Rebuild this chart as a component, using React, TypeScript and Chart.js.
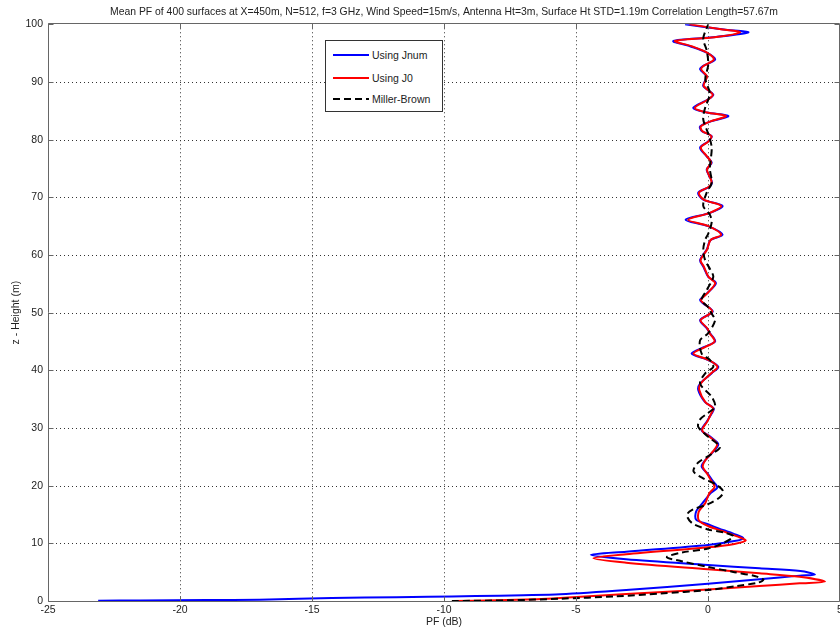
import React, { useEffect, useRef } from "react";
import { Chart, registerables } from "chart.js";

Chart.register(...registerables);

const TITLE =
  "Mean PF of 400 surfaces at X=450m, N=512, f=3 GHz, Wind Speed=15m/s, Antenna Ht=3m, Surface Ht STD=1.19m Correlation Length=57.67m";
const X_LABEL = "PF (dB)";
const Y_LABEL = "z - Height (m)";
const SERIES_NAMES = ["Using Jnum", "Using J0", "Miller-Brown"];
const SERIES_COLORS = ["#0000ff", "#ff0000", "#000000"];

const X_MIN = -25;
const X_MAX = 5;
const X_STEP = 5;
const Y_MIN = 0;
const Y_MAX = 100;
const Y_STEP = 10;

// Using Jnum (blue)
const jnumHeight = [
  0.05, 0.1, 0.17, 0.23, 0.4, 0.6, 0.72, 0.85, 1.0, 1.16, 1.9, 3.0, 3.76, 4.4, 4.6, 5.2, 5.67, 6.25, 7.23, 8.0,
  8.56, 9.73, 10.4, 10.9, 11.6, 12.6, 13.3, 14.1, 15.5, 17.0, 18.7, 19.7, 21.0, 22.0, 23.3, 24.4, 25.9, 27.2, 28.5,
  29.6, 31.1, 32.5, 33.4, 34.5, 36.6, 37.7, 39.5, 40.6, 41.8, 42.9, 44.1, 45.0, 46.4, 47.3, 48.7, 50.2, 51.6, 52.2,
  53.3, 55.1, 56.2, 58.0, 59.1, 60.9, 62.6, 63.5, 65.0, 66.1, 67.3, 68.5, 69.6, 70.8, 71.9, 72.8, 74.8, 76.0, 77.1,
  78.6, 79.7, 80.6, 81.5, 82.3, 83.2, 84.1, 84.7, 85.5, 87.0, 87.8, 89.3, 90.2, 91.0, 92.2, 92.8, 93.9, 95.1, 96.2,
  97.1, 97.75, 98.6, 99.1, 100.0,
];
const jnumPF = [
  -23.1, -21.5, -19.0, -17.0, -15.5, -13.0, -10.6, -8.8, -7.0, -5.6, -3.1, 0.0, 1.95, 3.47, 4.05, 3.5, 1.95, 0.0,
  -3.1, -4.44, -3.1, 0.0, 1.0, 1.34, 1.0, 0.4, 0.0, -0.45, -0.45, -0.2, 0.1, 0.35, 0.15, 0.0, -0.24, -0.11, 0.2, 0.39,
  0.08, -0.24, -0.05, 0.14, 0.22, -0.11, -0.37, -0.3, 0.14, 0.39, 0.01, -0.62, -0.11, 0.27, 0.08, -0.05, -0.3, 0.18,
  -0.18, -0.3, -0.05, 0.3, 0.01, -0.18, -0.3, -0.05, 0.1, 0.55, 0.0, -0.85, 0.08, 0.55, -0.18, -0.37, 0.08, 0.14,
  -0.05, 0.14, -0.05, -0.3, 0.01, 0.14, -0.24, -0.3, 0.14, 0.77, -0.05, -0.56, 0.01, 0.2, -0.18, -0.11, -0.05, -0.3,
  -0.18, 0.27, -0.05, -0.68, -1.31, 0.2, 1.53, 0.6, -0.87,
];

// Using J0 (red)
const j0Height = [
  0.0, 0.12, 0.3, 0.5, 1.2, 2.0, 2.6, 3.06, 3.36, 4.2, 4.8, 5.5, 6.65, 7.4, 8.1, 9.3, 9.9, 10.5, 11.2, 12.2, 13.0,
  14.0, 15.5, 17.0, 18.7, 19.8, 21.0, 22.0, 23.3, 24.4, 25.9, 27.2, 28.5, 29.6, 31.1, 32.5, 33.4, 34.5, 36.6, 37.7,
  39.5, 40.6, 41.8, 42.9, 44.1, 45.0, 46.4, 47.3, 48.7, 50.2, 51.6, 52.2, 53.3, 55.1, 56.2, 58.0, 59.1, 60.9, 62.6,
  63.5, 65.0, 66.1, 67.3, 68.5, 69.6, 70.8, 71.9, 72.8, 74.8, 76.0, 77.1, 78.6, 79.7, 80.6, 81.5, 82.3, 83.2, 84.1,
  84.7, 85.5, 87.0, 87.8, 89.3, 90.2, 91.0, 92.2, 92.8, 93.9, 95.1, 96.2, 97.1, 97.75, 98.6, 99.1, 100.0,
];
const j0PF = [
  -9.7, -8.0, -6.5, -5.6, -3.1, 0.0, 1.95, 3.47, 4.43, 3.47, 1.95, 0.0, -3.1, -4.34, -3.1, 0.0, 1.0, 1.43, 1.1, 0.5,
  0.0, -0.35, -0.35, -0.1, 0.05, 0.25, 0.1, -0.02, -0.2, -0.1, 0.18, 0.35, 0.05, -0.22, -0.03, 0.12, 0.2, -0.1, -0.33,
  -0.28, 0.12, 0.36, 0.02, -0.55, -0.08, 0.25, 0.07, -0.03, -0.28, 0.16, -0.16, -0.27, -0.04, 0.27, 0.02, -0.16,
  -0.28, -0.04, 0.1, 0.5, 0.02, -0.75, 0.07, 0.5, -0.16, -0.34, 0.06, 0.13, -0.04, 0.12, -0.04, -0.27, 0.02, 0.13,
  -0.22, -0.27, 0.12, 0.68, -0.04, -0.5, 0.02, 0.18, -0.16, -0.1, -0.04, -0.26, -0.16, 0.22, -0.04, -0.62, -1.25,
  0.25, 1.21, 0.55, -0.7,
];

// Miller-Brown (black dashed)
const mbHeight = [
  0.0, 0.12, 0.4, 0.8, 1.3, 1.9, 2.6, 3.2, 3.7, 4.3, 5.0, 5.9, 6.9, 7.6, 8.4, 9.1, 10.1, 11.2, 11.9, 12.4, 13.5,
  14.9, 15.8, 16.8, 18.0, 19.0, 20.2, 21.3, 22.5, 24.0, 25.5, 26.7, 28.5, 30.2, 31.5, 32.6, 33.7, 35.4, 37.7, 39.5,
  40.6, 41.8, 42.9, 45.2, 46.4, 48.7, 49.8, 50.9, 52.2, 53.9, 56.2, 57.6, 59.1, 60.9, 62.6, 63.7, 65.7, 67.0, 68.5,
  70.8, 72.5, 75.0, 78.6, 81.0, 83.5, 85.5, 88.0, 90.5, 93.0, 95.5, 97.5, 100.0,
];
const mbPF = [
  -9.7, -7.5, -5.6, -3.5, -1.8, 0.0, 1.1, 1.9, 2.1, 1.8, 1.0, 0.0, -1.0, -1.56, -1.0, 0.0, 0.6, 0.96, 0.6, 0.0, -0.6,
  -0.8, -0.6, 0.0, 0.45, 0.58, 0.3, -0.2, -0.55, -0.37, 0.14, 0.45, 0.0, -0.37, -0.3, 0.0, 0.27, 0.14, -0.3, -0.1,
  0.2, 0.07, -0.24, -0.3, 0.0, 0.27, 0.14, 0.01, -0.24, -0.05, 0.2, 0.07, -0.11, -0.18, -0.11, 0.01, 0.14, 0.07,
  -0.18, -0.05, 0.14, 0.07, 0.14, 0.01, -0.18, -0.11, 0.07, -0.1, 0.01, -0.05, -0.18, 0.01,
];

const FONT = "'Liberation Sans', Arial, sans-serif";
const TEXT_COLOR = "#222";
const AXIS_COLOR = "#666";

const zip = (hs: number[], xs: number[]) => hs.map((h, i) => ({ x: xs[i], y: h }));

const framePlugin = {
  id: "matlabFrame",
  beforeDatasetsDraw(chart: any) {
    const { ctx, chartArea: a, scales } = chart;
    const xs = scales.x;
    const ys = scales.y;
    ctx.save();
    ctx.strokeStyle = "#333";
    ctx.lineWidth = 1;
    ctx.setLineDash([1, 3]);
    ctx.beginPath();
    xs.ticks.forEach((t: any) => {
      const px = Math.round(xs.getPixelForValue(t.value)) + 0.5;
      if (px <= a.left + 1 || px >= a.right - 1) return;
      ctx.moveTo(px, a.top);
      ctx.lineTo(px, a.bottom);
    });
    ys.ticks.forEach((t: any) => {
      const py = Math.round(ys.getPixelForValue(t.value)) + 0.5;
      if (py <= a.top + 1 || py >= a.bottom - 1) return;
      ctx.moveTo(a.left, py);
      ctx.lineTo(a.right, py);
    });
    ctx.stroke();
    ctx.restore();
  },
  afterDatasetsDraw(chart: any) {
    const { ctx, chartArea: a, scales } = chart;
    const xs = scales.x;
    const ys = scales.y;
    const L = Math.round(a.left) + 0.5;
    const R = Math.round(a.right) - 0.5;
    const T = Math.round(a.top) - 0.5;
    const B = Math.round(a.bottom) + 0.5;
    ctx.save();
    ctx.strokeStyle = AXIS_COLOR;
    ctx.lineWidth = 1;
    ctx.setLineDash([]);
    ctx.beginPath();
    ctx.moveTo(L, T);
    ctx.lineTo(R, T);
    ctx.lineTo(R, B);
    ctx.lineTo(L, B);
    ctx.closePath();
    const tl = 5;
    xs.ticks.forEach((t: any) => {
      const px = Math.round(xs.getPixelForValue(t.value)) + 0.5;
      ctx.moveTo(px, B);
      ctx.lineTo(px, B - tl);
      ctx.moveTo(px, T);
      ctx.lineTo(px, T + tl);
    });
    ys.ticks.forEach((t: any) => {
      const py = Math.round(ys.getPixelForValue(t.value)) + 0.5;
      ctx.moveTo(L, py);
      ctx.lineTo(L + tl, py);
      ctx.moveTo(R, py);
      ctx.lineTo(R - tl, py);
    });
    ctx.stroke();
    ctx.restore();
  },
};

function LegendBox() {
  const rows = [
    { top: 14, dash: "" },
    { top: 36.5, dash: "" },
    { top: 57.5, dash: "7 4" },
  ];
  return (
    <div
      style={{
        position: "absolute",
        left: 325,
        top: 40,
        width: 118,
        height: 72,
        boxSizing: "border-box",
        border: "1px solid #333",
        background: "#fff",
        fontFamily: FONT,
        fontSize: 10.5,
        color: TEXT_COLOR,
      }}
    >
      {rows.map((r, i) => (
        <div key={i} style={{ position: "absolute", left: 0, top: r.top - 7, height: 14, width: "100%" }}>
          <svg width={38} height={14} style={{ position: "absolute", left: 6, top: 0 }}>
            <line
              x1={1}
              y1={7}
              x2={37}
              y2={7}
              stroke={SERIES_COLORS[i]}
              strokeWidth={2}
              strokeDasharray={r.dash || undefined}
            />
          </svg>
          <span style={{ position: "absolute", left: 46, top: 0, lineHeight: "14px", whiteSpace: "nowrap" }}>
            {SERIES_NAMES[i]}
          </span>
        </div>
      ))}
    </div>
  );
}

export default function App() {
  const canvasRef = useRef<HTMLCanvasElement | null>(null);

  useEffect(() => {
    if (!canvasRef.current) return;
    const chart = new Chart(canvasRef.current, {
      type: "scatter",
      data: {
        datasets: [
          {
            label: SERIES_NAMES[0],
            data: zip(jnumHeight, jnumPF),
            showLine: true,
            borderColor: SERIES_COLORS[0],
            backgroundColor: SERIES_COLORS[0],
            borderWidth: 2,
            pointRadius: 0,
            tension: 0.3,
            order: 3,
          },
          {
            label: SERIES_NAMES[1],
            data: zip(j0Height, j0PF),
            showLine: true,
            borderColor: SERIES_COLORS[1],
            backgroundColor: SERIES_COLORS[1],
            borderWidth: 2,
            pointRadius: 0,
            tension: 0.3,
            order: 2,
          },
          {
            label: SERIES_NAMES[2],
            data: zip(mbHeight, mbPF),
            showLine: true,
            borderColor: SERIES_COLORS[2],
            backgroundColor: SERIES_COLORS[2],
            borderWidth: 2,
            borderDash: [7, 4],
            pointRadius: 0,
            tension: 0.3,
            order: 1,
          },
        ],
      },
      options: {
        animation: false,
        responsive: false,
        maintainAspectRatio: false,
        devicePixelRatio: 1,
        layout: { padding: 0, autoPadding: false },
        plugins: {
          legend: { display: false },
          tooltip: { enabled: false },
          title: {
            display: true,
            text: TITLE,
            fullSize: false,
            color: TEXT_COLOR,
            font: { family: FONT, size: 10.4, weight: "normal" },
            padding: { top: 6, bottom: 5.8 },
          },
        },
        scales: {
          x: {
            type: "linear",
            position: "bottom",
            min: X_MIN,
            max: X_MAX,
            grid: { display: false, drawTicks: false },
            border: { display: false },
            ticks: {
              stepSize: X_STEP,
              padding: 3,
              color: TEXT_COLOR,
              font: { family: FONT, size: 10.5 },
              maxRotation: 0,
              autoSkip: false,
            },
            title: {
              display: true,
              text: X_LABEL,
              color: TEXT_COLOR,
              font: { family: FONT, size: 10.5 },
              padding: { top: 0, bottom: 5.4 },
            },
            afterFit: (s: any) => {
              s.height = 33;
              s.paddingLeft = 0;
              s.paddingRight = 0;
            },
          },
          y: {
            type: "linear",
            position: "left",
            min: Y_MIN,
            max: Y_MAX,
            grid: { display: false, drawTicks: false },
            border: { display: false },
            ticks: {
              stepSize: Y_STEP,
              padding: 5,
              color: TEXT_COLOR,
              font: { family: FONT, size: 10.5 },
              autoSkip: false,
            },
            title: {
              display: true,
              text: Y_LABEL,
              color: TEXT_COLOR,
              font: { family: FONT, size: 10.5 },
              padding: { top: 10, bottom: 0 },
            },
            afterFit: (s: any) => {
              s.width = 48;
              s.paddingTop = 0;
              s.paddingBottom = 0;
            },
          },
        },
      } as any,
      plugins: [framePlugin],
    });
    return () => chart.destroy();
  }, []);

  return (
    <div style={{ position: "fixed", left: 0, top: 0, width: 840, height: 634, background: "#fff" }}>
      <canvas ref={canvasRef} width={840} height={634} style={{ display: "block" }} />
      <LegendBox />
    </div>
  );
}
